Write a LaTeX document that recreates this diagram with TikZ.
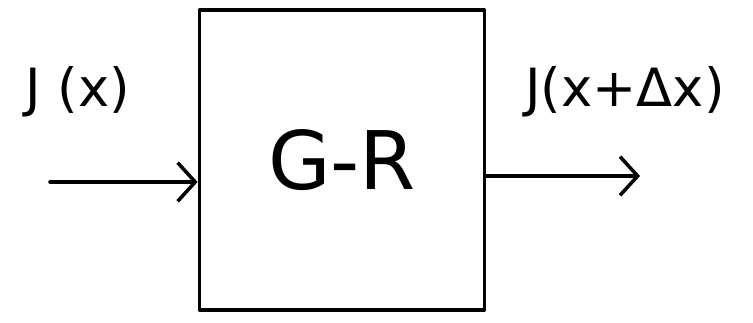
\documentclass[tikz,border=0pt]{standalone}
\usepackage{fontspec}
\setmainfont{DejaVu Sans}
\usetikzlibrary{arrows.meta}
\tikzset{
  flux/.style={line width=2pt, -{Straight Barb[length=10pt,width=22pt,line width=2pt]}},
  lbl/.style={font=\fontsize{30}{34}\selectfont, inner sep=0pt},
}
\begin{document}
\begin{tikzpicture}[x=0.02cm, y=-0.02cm, line cap=round, line join=round]
\useasboundingbox (0,0) rectangle (753,322);
% blok generace-rekombinace
\node[draw, line width=2.2pt, minimum width=5.7cm, minimum height=6cm, inner sep=0pt,
      font=\fontsize{46}{52}\selectfont] (box) at (342,160) {G-R};
% vstupni a vystupni tok
\coordinate (in) at (50,182);
\coordinate (out) at (640,176);
\draw[flux] (in) -- (in -| box.west);
\draw[flux] (out -| box.east) -- (out);
\node[lbl] (jin) at (78,92) {J (x)};
\node[lbl] (jout) at (625,92) {J(x+Δx)};
\end{tikzpicture}
\end{document}
